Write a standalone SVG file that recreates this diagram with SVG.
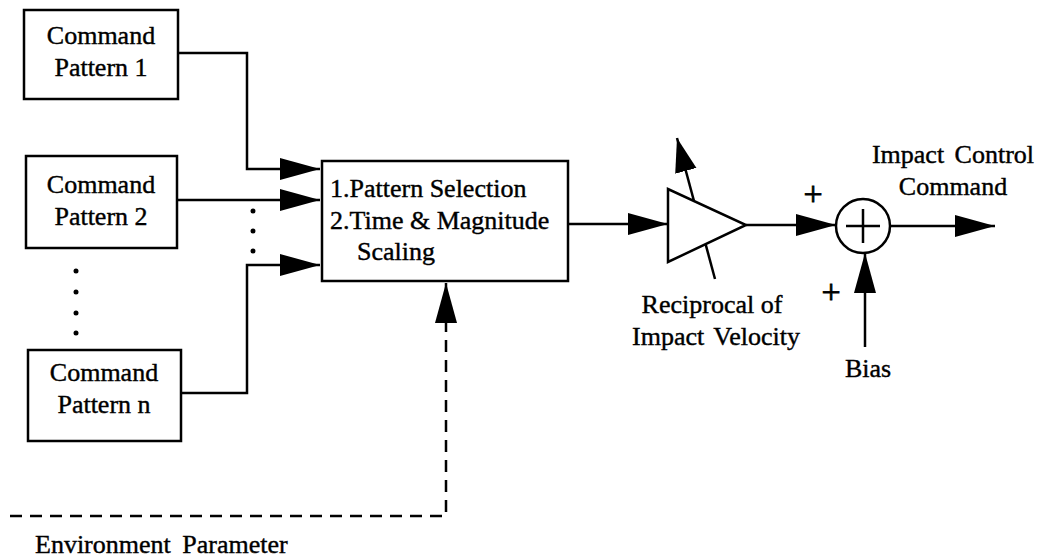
<svg xmlns="http://www.w3.org/2000/svg" width="1037" height="559" viewBox="0 0 1037 559">
<style>
text{font-family:"Liberation Serif","Times New Roman",serif;font-size:26px;fill:#000;stroke:#000;stroke-width:0.4}
.plus{font-size:34px;stroke-width:0.8}
.box{fill:#fff;stroke:#000;stroke-width:2.5}
.ln{fill:none;stroke:#000;stroke-width:2.5}
.dash{fill:none;stroke:#000;stroke-width:2.5;stroke-dasharray:12 8}
.dot{fill:#000}
</style>
<defs>
<marker id="ah" markerUnits="userSpaceOnUse" markerWidth="42" markerHeight="24" refX="40" refY="11" orient="auto" viewBox="0 0 42 24">
<path d="M0,0 L40,11 L0,22 z" fill="#000"/>
</marker>
<marker id="ahs" markerUnits="userSpaceOnUse" markerWidth="36" markerHeight="24" refX="34" refY="11" orient="auto" viewBox="0 0 36 24">
<path d="M0,0 L34,11 L0,22 z" fill="#000"/>
</marker>
</defs>
<g id="connectors">
<path class="ln" d="M178,53 H247 V169 H320" marker-end="url(#ah)"/>
<path class="ln" d="M177,200 H320" marker-end="url(#ah)"/>
<path class="ln" d="M181,393 H247 V265 H320" marker-end="url(#ah)"/>
<path class="ln" d="M568,224 H668" marker-end="url(#ah)"/>
<path class="ln" d="M746,225 H836" marker-end="url(#ah)"/>
<path class="ln" d="M890,226 H995" marker-end="url(#ah)"/>
<path class="ln" d="M865,347 V253" marker-end="url(#ah)"/>
<path class="dash" d="M10,516 H446 V283" marker-end="url(#ah)"/>
<path class="ln" d="M715,279 L677,138" marker-end="url(#ahs)"/>
</g>
<g id="dots">
<circle class="dot" cx="253" cy="211" r="2.5"/>
<circle class="dot" cx="253" cy="231" r="2.5"/>
<circle class="dot" cx="253" cy="251" r="2.5"/>
<circle class="dot" cx="76" cy="271" r="2.5"/>
<circle class="dot" cx="76" cy="292" r="2.5"/>
<circle class="dot" cx="76" cy="313" r="2.5"/>
<circle class="dot" cx="76" cy="333" r="2.5"/>
</g>
<g id="pattern1">
<rect class="box" x="24" y="10" width="154" height="89"/>
<text x="101" y="44" text-anchor="middle">Command</text>
<text x="101" y="76" text-anchor="middle">Pattern 1</text>
</g>
<g id="pattern2">
<rect class="box" x="26" y="156" width="151" height="92"/>
<text x="101" y="193" text-anchor="middle">Command</text>
<text x="101" y="225" text-anchor="middle">Pattern 2</text>
</g>
<g id="patternn">
<rect class="box" x="28" y="350" width="153" height="91"/>
<text x="104" y="381" text-anchor="middle">Command</text>
<text x="104" y="413" text-anchor="middle">Pattern n</text>
</g>
<g id="selector">
<rect class="box" x="322" y="161" width="246" height="120"/>
<text x="330" y="197">1.Pattern Selection</text>
<text x="330" y="229">2.Time &amp; Magnitude</text>
<text x="357" y="260">Scaling</text>
</g>
<g id="amplifier">
<polygon class="box" points="668,189 668,262 746,225"/>
<text x="712" y="313" text-anchor="middle">Reciprocal of</text>
<text x="716" y="345" text-anchor="middle" word-spacing="3">Impact Velocity</text>
</g>
<g id="summer">
<circle class="box" cx="863" cy="226" r="27"/>
<path class="ln" d="M846,226 H880 M863,209 V243"/>
<text class="plus" x="813" y="205" text-anchor="middle">+</text>
<text class="plus" x="831" y="303" text-anchor="middle">+</text>
</g>
<g id="bias">
<text x="868" y="377" text-anchor="middle">Bias</text>
</g>
<g id="output">
<text x="953" y="163" text-anchor="middle" word-spacing="4">Impact Control</text>
<text x="953" y="195" text-anchor="middle">Command</text>
</g>
<g id="environment">
<text x="35" y="553" word-spacing="5">Environment Parameter</text>
</g>
</svg>
